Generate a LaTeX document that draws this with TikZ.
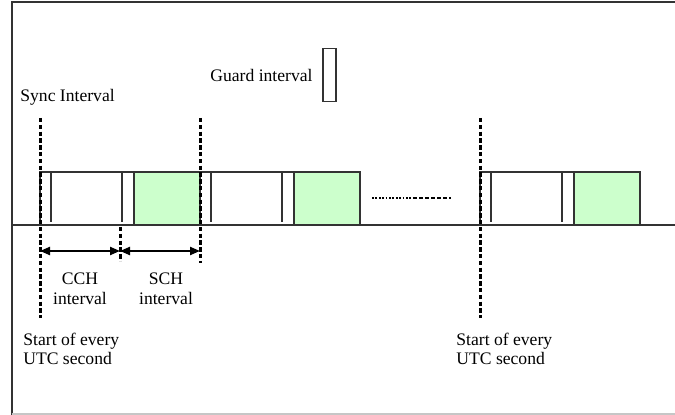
\documentclass[tikz,border=0pt]{standalone}
\usepackage{fontspec}
\setmainfont{Liberation Serif}
\usetikzlibrary{positioning,arrows.meta}
\definecolor{schgreen}{HTML}{CCFFCC}
\definecolor{edge}{HTML}{333333}

\begin{document}
\begin{tikzpicture}[
  x=0.5pt, y=-0.5pt,
  font=\fontsize{8.8}{9.6}\selectfont,
  frame/.style={draw=edge, line width=1pt},
  slot/.style={draw=edge, line width=0.8pt},
  cch/.style={slot, fill=white},
  sch/.style={slot, fill=schgreen},
  sync/.style={line width=1.5pt, dash pattern=on 2.2pt off 1.2pt},
  span/.style={{Triangle[length=5pt,width=4pt]}-{Triangle[length=5pt,width=4pt]}, line width=1.1pt},
  lbl/.style={inner sep=0pt, align=center},
  note/.style={inner sep=0pt, align=left, anchor=west},
  legend/.style={draw=edge, line width=0.8pt, minimum width=6.5pt,
                 minimum height=26.5pt, inner sep=0pt},
  node distance=4.5pt]
\useasboundingbox (0,0) rectangle (675,415);

% frame
\draw[frame] (11.5,415) -- (11.5,2.5) -- (675,2.5);
\draw[gray!45, line width=0.8pt] (11.5,414) -- (675,414);

% time axis
\coordinate (t0) at (12,225);
\coordinate (t1) at (675,225);
\draw[slot] (t0) -- (t1);

% CCH + SCH pairs, guard lines in the white part
\foreach \s in {40,200,480} {
  \draw[cch] (\s,172) rectangle ++(94,53);
  \draw[sch] (\s+94,172) rectangle ++(66,53);
  \draw[slot] (\s+11,173) -- (\s+11,222);
  \draw[slot] (\s+82,173) -- (\s+82,222);
}

% sync marks
\coordinate (sA) at (40,118);  \coordinate (sAe) at (40,318);
\coordinate (sB) at (200,118); \coordinate (sBe) at (200,263);
\coordinate (sC) at (480,118); \coordinate (sCe) at (480,318);
\coordinate (sM) at (120,227); \coordinate (sMe) at (120,261);
\foreach \a/\b in {sA/sAe, sB/sBe, sC/sCe, sM/sMe} \draw[sync] (\a) -- (\b);

% interval spans
\coordinate (cch0) at (40,251);
\coordinate (cch1) at (120,251);
\coordinate (sch1) at (200,251);
\draw[span] (cch0) -- (cch1);
\draw[span] (cch1) -- (sch1);

% more intervals
\coordinate (d0) at (372,198);
\coordinate (d1) at (413,198);
\coordinate (d2) at (451,198);
\draw[line width=1.2pt, dash pattern=on 0.9pt off 0.8pt] (d0) -- (d1);
\draw[line width=1.2pt, dash pattern=on 2pt off 1pt] (d1) -- (d2);

% labels
\node[note] (sync) at (20,97) {Sync Interval};
\node[note] (guard) at (210,75) {Guard interval};
\node[legend, right=of guard] (gbox) {};
\node[lbl, font=\fontsize{8.8}{10}\selectfont] (cchl) at (80,289) {CCH\\interval};
\node[lbl, font=\fontsize{8.8}{10}\selectfont] (schl) at (166,289) {SCH\\interval};
\node[note] (utc0) at (23,349) {Start of every\\UTC second};
\node[note] (utc1) at (456,349) {Start of every\\UTC second};
\end{tikzpicture}
\end{document}
